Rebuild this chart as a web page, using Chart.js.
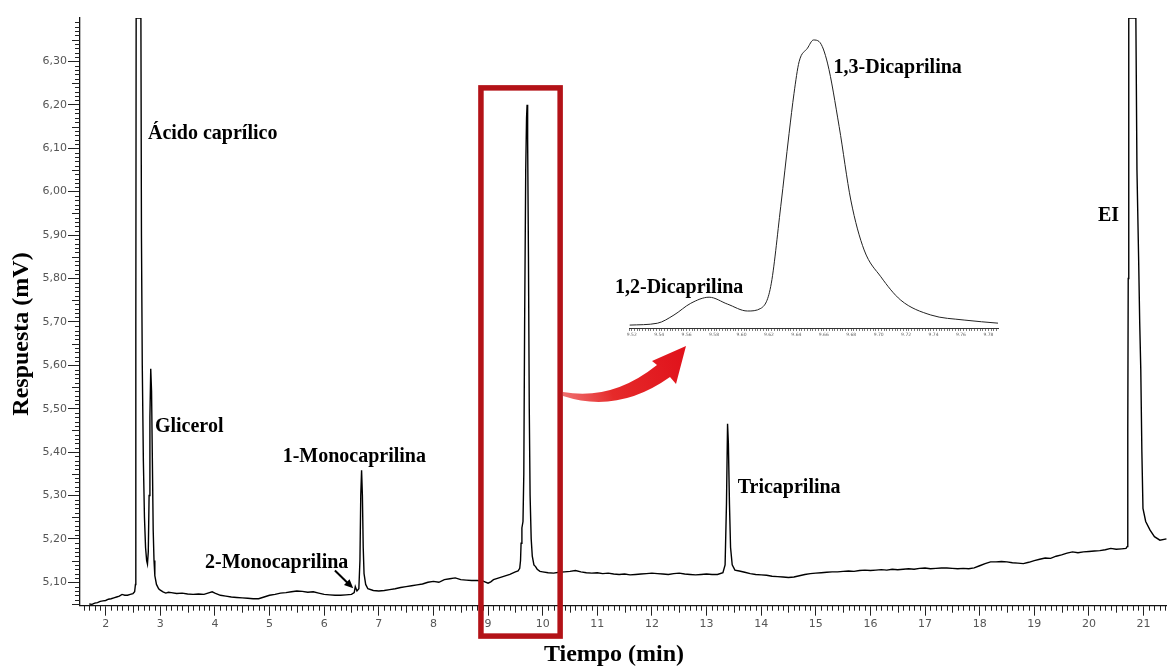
<!DOCTYPE html>
<html><head><meta charset="utf-8">
<script src="https://cdn.jsdelivr.net/npm/chart.js@4.4.1/dist/chart.umd.min.js"></script>
<style>
html,body{margin:0;padding:0;background:#fff;}
#wrap{position:relative;width:1167px;height:668px;overflow:hidden;}
#main{position:absolute;left:0;top:0;}
#inset{position:absolute;left:600px;top:25px;}
</style></head><body>
<div id="wrap"><canvas id="main" width="1167" height="668"></canvas><canvas id="inset" width="410" height="320"></canvas></div>
<script>
// ---- Cromatograma principal: tiempo (min) y respuesta (mV) ----
const tiempo = [
1.70,1.75,1.80,1.85,1.90,1.95,2.00,2.05,2.10,2.15,2.20,2.25,2.30,2.35,2.40,2.45,2.50,2.53,
2.545,2.552,2.558,2.645,2.655,2.67,2.69,2.71,2.73,2.75,2.765,2.78,2.795,2.81,2.825,2.84,2.855,2.87,2.885,2.90,2.93,2.97,
3.00,3.05,3.10,3.15,3.20,3.30,3.40,3.50,3.60,3.70,3.80,3.90,3.95,4.00,4.10,4.20,4.30,4.40,4.50,4.60,4.70,4.80,4.90,
5.00,5.10,5.20,5.30,5.40,5.50,5.60,5.70,5.80,5.90,6.00,6.10,6.20,6.30,6.40,6.50,6.55,6.57,6.60,
6.635,6.655,6.67,6.685,6.70,6.715,6.73,6.76,6.80,6.90,
7.00,7.10,7.20,7.30,7.40,7.50,7.60,7.70,7.80,7.90,8.00,8.10,8.20,8.30,8.40,8.50,8.60,8.70,8.80,8.90,
9.00,9.05,9.10,9.20,9.30,9.40,9.50,9.55,9.58,9.595,9.605,9.62,9.64,9.655,9.67,9.69,9.705,9.715,9.725,9.74,9.755,9.77,9.79,9.81,9.84,9.87,9.90,9.95,
10.00,10.10,10.20,10.30,10.40,10.50,10.60,10.70,10.80,10.90,11.00,11.10,11.20,11.30,11.40,11.50,11.60,11.70,11.80,11.90,
12.00,12.10,12.20,12.30,12.40,12.50,12.60,12.70,12.80,12.90,13.00,13.10,13.20,13.30,13.34,13.365,13.385,13.40,13.42,13.44,13.47,13.52,13.60,13.70,13.80,13.90,
14.00,14.10,14.20,14.30,14.40,14.50,14.60,14.70,14.80,14.90,15.00,15.10,15.20,15.30,15.40,15.50,15.60,15.70,15.80,15.90,
16.00,16.10,16.20,16.30,16.40,16.50,16.60,16.70,16.80,16.90,17.00,17.10,17.20,17.30,17.40,17.50,17.60,17.70,17.80,17.90,
18.00,18.10,18.20,18.30,18.40,18.50,18.60,18.70,18.80,18.90,19.00,19.10,19.20,19.30,19.40,19.50,19.60,19.70,19.80,19.90,
20.00,20.10,20.20,20.30,20.40,20.50,20.60,20.68,20.70,20.712,20.72,20.73,20.86,20.88,20.91,20.93,20.95,20.97,20.99,21.04,21.12,21.20,21.30,21.42
];
const respuesta = [
5.050,5.049,5.052,5.053,5.056,5.057,5.058,5.061,5.062,5.064,5.066,5.068,5.072,5.070,5.070,5.072,5.074,5.078,
5.095,5.700,6.400,6.400,5.900,5.600,5.380,5.250,5.180,5.150,5.142,5.170,5.300,5.480,5.592,5.540,5.380,5.220,5.150,5.115,5.095,5.085,
5.082,5.078,5.075,5.077,5.076,5.074,5.075,5.073,5.072,5.073,5.072,5.076,5.078,5.075,5.070,5.068,5.066,5.065,5.064,5.063,5.062,5.062,5.066,
5.070,5.072,5.075,5.076,5.078,5.080,5.079,5.077,5.078,5.075,5.072,5.071,5.070,5.070,5.071,5.072,5.076,5.090,5.080,
5.085,5.150,5.300,5.358,5.300,5.180,5.120,5.095,5.085,5.081,
5.080,5.081,5.083,5.085,5.088,5.090,5.092,5.094,5.096,5.100,5.102,5.100,5.106,5.108,5.110,5.106,5.105,5.104,5.104,5.103,
5.098,5.101,5.106,5.110,5.114,5.118,5.124,5.126,5.132,5.150,5.190,5.225,5.240,5.350,5.700,6.050,6.170,6.200,6.120,5.850,5.500,5.300,5.200,5.160,5.140,5.136,5.130,5.125,
5.124,5.122,5.121,5.123,5.124,5.125,5.127,5.124,5.122,5.121,5.122,5.120,5.121,5.119,5.118,5.119,5.117,5.118,5.119,5.120,
5.121,5.120,5.119,5.118,5.120,5.121,5.119,5.118,5.117,5.118,5.119,5.118,5.118,5.122,5.140,5.280,5.465,5.420,5.280,5.180,5.140,5.128,5.126,5.123,5.120,5.118,
5.117,5.116,5.114,5.113,5.112,5.111,5.112,5.115,5.118,5.120,5.121,5.122,5.123,5.124,5.124,5.125,5.126,5.125,5.127,5.128,
5.127,5.128,5.129,5.128,5.130,5.129,5.130,5.131,5.130,5.132,5.133,5.131,5.132,5.133,5.133,5.132,5.131,5.132,5.131,5.133,
5.138,5.143,5.147,5.147,5.148,5.147,5.145,5.144,5.143,5.146,5.150,5.153,5.156,5.155,5.160,5.163,5.167,5.170,5.168,5.170,
5.171,5.172,5.173,5.175,5.178,5.176,5.177,5.178,5.182,5.450,5.800,6.400,6.400,6.050,5.850,5.700,5.590,5.400,5.270,5.240,5.220,5.205,5.197,5.200
];
// ---- Ampliación (1,2- y 1,3-Dicaprilina) ----
const tiempoInset = [9.5185,9.5387,9.5508,9.563,9.5764,9.5898,9.6044,9.6141,9.6213,9.6286,9.6347,9.6383,9.642,9.6481,9.6525,9.6566,9.6627,9.6712,9.6797,9.6894,9.7016,9.7161,9.738,9.7623,9.7876];
const respuestaInset = [5.126,5.133,5.164,5.208,5.231,5.205,5.179,5.189,5.271,5.572,5.848,5.999,6.118,6.169,6.200,6.194,6.113,5.874,5.597,5.409,5.308,5.220,5.164,5.145,5.133];
// ---- Etiquetas de picos ----
const etiquetas = ['Ácido caprílico','Glicerol','2-Monocaprilina','1-Monocaprilina','Tricaprilina','EI'];
const etiquetaX = [2.774,2.902,3.818,5.240,13.57,20.166];
const etiquetaY = [6.121,5.446,5.133,5.377,5.306,5.933];
const etiquetasInset = ['1,2-Dicaprilina','1,3-Dicaprilina'];
const etiquetaInsetX = [9.5078,9.6671];
const etiquetaInsetY = [5.246,6.077];

const LABEL_FONT = 'bold 20px "Liberation Serif", "Times New Roman", serif';

const mainPlugin = {
  id:'mainDeco',
  afterDraw(chart){
    const {ctx, chartArea:a, scales:{x,y}} = chart;
    ctx.save();
    // minor ticks x
    ctx.strokeStyle = '#222'; ctx.lineWidth = 1;
    ctx.beginPath();
    for(let i=16;i<=214;i++){
      if(i%10===0) continue;
      const px = Math.round(x.getPixelForValue(i/10))+0.5;
      const len = (i%5===0)?7:5;
      ctx.moveTo(px,a.bottom); ctx.lineTo(px,a.bottom+len);
    }
    for(let i=505;i<=639;i++){
      if(i%10===0) continue;
      const py = Math.round(y.getPixelForValue(i/100))+0.5;
      const len = (i%5===0)?8:5;
      ctx.moveTo(a.left-len,py); ctx.lineTo(a.left,py);
    }
    ctx.stroke();
    // red box
    ctx.strokeStyle = '#b31217'; ctx.lineWidth = 5.5;
    const bx1 = x.getPixelForValue(8.87), bx2 = x.getPixelForValue(10.32);
    const by1 = y.getPixelForValue(6.239), by2 = y.getPixelForValue(4.976);
    ctx.strokeRect(bx1,by1,bx2-bx1,by2-by1);
    // red curved arrow
    const grad = ctx.createLinearGradient(563,395,690,350);
    grad.addColorStop(0,'#f07070'); grad.addColorStop(0.35,'#e52a2a'); grad.addColorStop(1,'#e0101a');
    ctx.fillStyle = grad;
    ctx.beginPath();
    ctx.moveTo(563,392);
    ctx.quadraticCurveTo(612,401,657,365);
    ctx.lineTo(652,361);
    ctx.lineTo(686,346);
    ctx.lineTo(676,384);
    ctx.lineTo(670,377);
    ctx.quadraticCurveTo(618,414,563,396);
    ctx.closePath();
    ctx.fill();
    // black arrow (2-Monocaprilina)
    const ax1 = x.getPixelForValue(6.197), ay1 = y.getPixelForValue(5.127);
    const ax2 = x.getPixelForValue(6.532), ay2 = y.getPixelForValue(5.086);
    const ang = Math.atan2(ay2-ay1, ax2-ax1);
    ctx.strokeStyle='#000'; ctx.fillStyle='#000'; ctx.lineWidth=2;
    ctx.beginPath(); ctx.moveTo(ax1,ay1);
    ctx.lineTo(ax2-7*Math.cos(ang), ay2-7*Math.sin(ang)); ctx.stroke();
    ctx.beginPath(); ctx.moveTo(ax2,ay2);
    ctx.lineTo(ax2-9*Math.cos(ang)+4*Math.sin(ang), ay2-9*Math.sin(ang)-4*Math.cos(ang));
    ctx.lineTo(ax2-9*Math.cos(ang)-4*Math.sin(ang), ay2-9*Math.sin(ang)+4*Math.cos(ang));
    ctx.closePath(); ctx.fill();
    // peak labels
    ctx.font = LABEL_FONT; ctx.fillStyle='#000'; ctx.textAlign='left'; ctx.textBaseline='alphabetic';
    etiquetas.forEach((t,i)=>ctx.fillText(t, x.getPixelForValue(etiquetaX[i]), y.getPixelForValue(etiquetaY[i])));
    // axis titles
    ctx.font = 'bold 24px "Liberation Serif", "Times New Roman", serif';
    ctx.textAlign='center'; ctx.textBaseline='middle';
    ctx.fillText('Tiempo (min)', 614, 655);
    ctx.save(); ctx.translate(22, 334); ctx.rotate(-Math.PI/2);
    ctx.fillText('Respuesta (mV)', 0, 0); ctx.restore();
    ctx.restore();
  }
};

new Chart(document.getElementById('main'), {
  type:'line',
  data:{datasets:[{data:tiempo.map((t,i)=>({x:t,y:respuesta[i]})), borderColor:'#000', borderWidth:1.4, pointRadius:0, tension:0, fill:false}]},
  options:{
    responsive:false, animation:false, devicePixelRatio:1,
    layout:{padding:{left:0,right:0,top:18,bottom:0}},
    plugins:{legend:{display:false}, tooltip:{enabled:false}},
    scales:{
      x:{type:'linear', min:1.53, max:21.43,
        border:{display:true,color:'#111',width:1.3},
        grid:{display:true,drawOnChartArea:false,drawTicks:true,tickLength:10,tickColor:'#222',tickWidth:1},
        ticks:{stepSize:1, includeBounds:false, autoSkip:false, maxRotation:0, padding:2, color:'#555',
          font:{family:'"DejaVu Sans", sans-serif', size:11},
          callback:v=>Math.abs(v-Math.round(v))<1e-6 ? String(Math.round(v)) : null},
        afterFit:s=>{s.height=62.3; s.paddingLeft=0; s.paddingRight=0;}
      },
      y:{type:'linear', min:5.046, max:6.40,
        border:{display:true,color:'#111',width:1.3},
        grid:{display:true,drawOnChartArea:false,drawTicks:true,tickLength:12,tickColor:'#222',tickWidth:1},
        ticks:{stepSize:0.1, includeBounds:false, autoSkip:false, padding:1, color:'#555',
          font:{family:'"DejaVu Sans", sans-serif', size:11},
          callback:v=> v>6.35 ? null : v.toFixed(2).replace('.',',')},
        afterFit:s=>{s.width=80; s.paddingTop=0; s.paddingBottom=0;}
      }
    }
  },
  plugins:[mainPlugin]
});

const insetPlugin = {
  id:'insetDeco',
  afterDraw(chart){
    const {ctx, scales:{x,y}} = chart;
    ctx.save();
    ctx.font = LABEL_FONT; ctx.fillStyle='#000'; ctx.textAlign='left'; ctx.textBaseline='alphabetic';
    etiquetasInset.forEach((t,i)=>ctx.fillText(t, x.getPixelForValue(etiquetaInsetX[i]), y.getPixelForValue(etiquetaInsetY[i])));
    ctx.restore();
  }
};

new Chart(document.getElementById('inset'), {
  type:'line',
  data:{datasets:[{data:tiempoInset.map((t,i)=>({x:t,y:respuestaInset[i]})), borderColor:'#222', borderWidth:1, pointRadius:0, tension:0.35, cubicInterpolationMode:'monotone', fill:false}]},
  options:{
    responsive:false, animation:false, devicePixelRatio:1,
    layout:{padding:{left:29,right:12,top:11,bottom:0}},
    plugins:{legend:{display:false}, tooltip:{enabled:false}},
    scales:{
      x:{type:'linear', min:9.518, max:9.787,
        border:{display:true,color:'#333',width:1},
        grid:{display:true,drawOnChartArea:false,drawTicks:true,tickLength:3,tickColor:'#444',tickWidth:0.7},
        ticks:{stepSize:0.002, includeBounds:false, autoSkip:false, maxRotation:0, padding:1, color:'#666',
          font:{family:'"DejaVu Sans", sans-serif', size:4.5},
          callback:v=>{const k=v/0.02; return Math.abs(k-Math.round(k))<1e-4 ? v.toFixed(2) : '';}},
        afterFit:s=>{s.height=17; s.paddingLeft=0; s.paddingRight=0;}
      },
      y:{display:false, min:5.115, max:6.215}
    }
  },
  plugins:[insetPlugin]
});
</script>
</body></html>
